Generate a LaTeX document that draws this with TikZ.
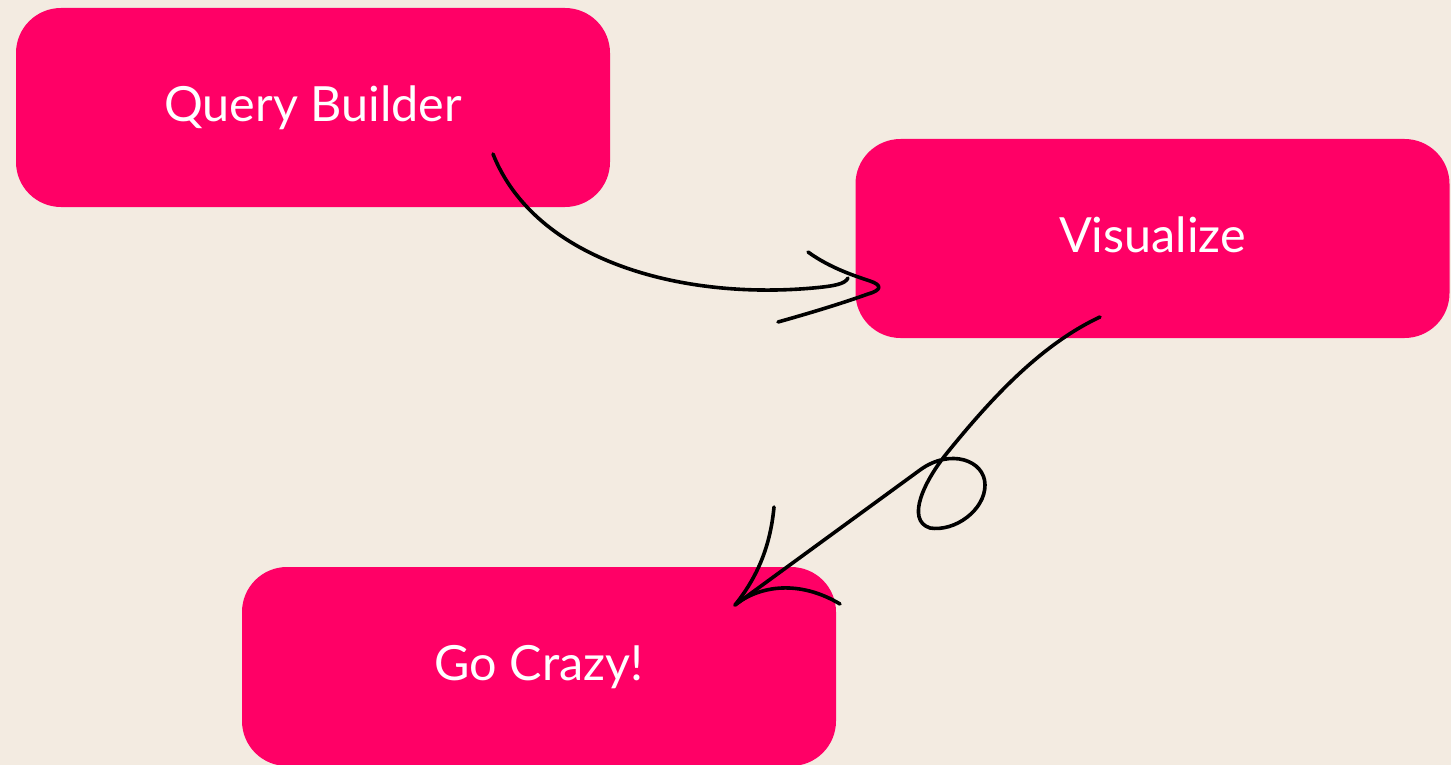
\documentclass[tikz,border=0pt]{standalone}
\usepackage{fontspec}
\setmainfont{Lato}
\definecolor{bgc}{HTML}{F3EBE1}
\definecolor{pinkc}{HTML}{FF0066}
\begin{document}
\begin{tikzpicture}[x=1pt,y=-1pt,
  box/.style={fill=pinkc, rounded corners=45pt, minimum width=594pt, minimum height=199pt,
    text=white, font=\fontsize{48.5}{52}\selectfont, text height=28pt, text depth=0pt, inner sep=0pt},
  ink/.style={line width=3.6pt, line cap=round, line join=round, draw=black}]
\useasboundingbox (0,0) rectangle (1451,765);
\fill[bgc] (0,0) rectangle (1451,765);
\node[box] (qb) at (313,107.5) {Query Builder};
\node[box] (vz) at (1152.5,238.5) {Visualize};
\node[box] (gc) at (539,666.5) {Go Crazy!};
% arrow 1
\coordinate (a1s) at (493,154);
\coordinate (a1e) at (848,278);
\coordinate (a1t) at (876,287);
\draw[ink] (a1s) .. controls (535,260) and (680,300) .. (813,288) .. controls (835,286) and (845,284) .. (a1e);
\draw[ink] (808,252) .. controls (830,268) and (855,276) .. (870,281) .. controls (882,285) and (882,290) .. (868,294) .. controls (840,304) and (810,313) .. (778,322);
% arrow 2
\coordinate (a2s) at (1100,317);
\coordinate (a2t) at (735,605);
\draw[ink] (a2s) .. controls (1040,345) and (990,400) .. (947,453) .. controls (925,480) and (905,520) .. (930,528) .. controls (955,532) and (985,510) .. (985,485) .. controls (985,460) and (950,448) .. (920,470) -- (a2t);
\draw[ink] (774,507) .. controls (770,550) and (755,580) .. (a2t) .. controls (760,585) and (800,580) .. (840,604);
\end{tikzpicture}
\end{document}
